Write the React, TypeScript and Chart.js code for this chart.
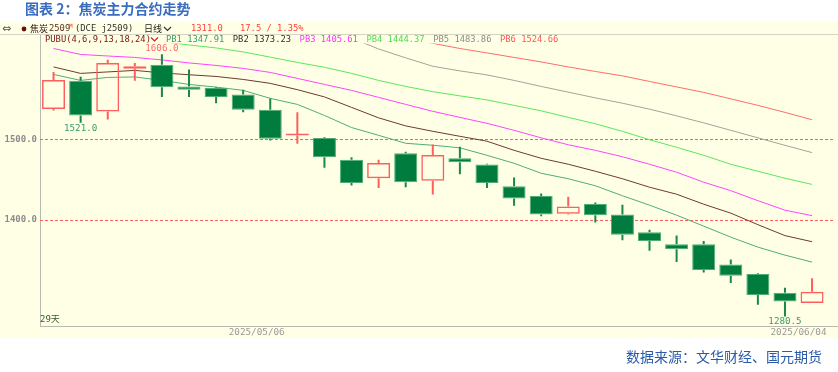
import React, { useEffect, useRef } from 'react';
import { Chart, registerables } from 'chart.js';

Chart.register(...registerables);

// ---- data ----
const dates = [
  '2025/04/21', '2025/04/22', '2025/04/23', '2025/04/24', '2025/04/25',
  '2025/04/28', '2025/04/29', '2025/04/30', '2025/05/06', '2025/05/07',
  '2025/05/08', '2025/05/09', '2025/05/12', '2025/05/13', '2025/05/14',
  '2025/05/15', '2025/05/16', '2025/05/19', '2025/05/20', '2025/05/21',
  '2025/05/22', '2025/05/23', '2025/05/26', '2025/05/27', '2025/05/28',
  '2025/05/29', '2025/05/30', '2025/06/03', '2025/06/04',
];
const opens = [1538, 1573, 1535, 1588, 1593, 1566, 1564, 1556, 1537, 1505, 1502, 1475, 1452, 1483, 1449, 1477, 1469, 1442, 1430, 1408, 1420, 1407, 1385, 1370, 1370, 1345, 1333, 1310, 1297];
const highs = [1584, 1578, 1599, 1595, 1606, 1587, 1565, 1562, 1551, 1534, 1503, 1478, 1475, 1485, 1494, 1491, 1470, 1453, 1433, 1429, 1422, 1419, 1388, 1381, 1374, 1351, 1334, 1316, 1328];
const lows = [1536, 1521, 1525, 1573, 1553, 1553, 1545, 1534, 1499, 1495, 1465, 1443, 1440, 1441, 1432, 1457, 1440, 1418, 1405, 1407, 1397, 1375, 1362, 1348, 1335, 1322, 1295, 1280.5, 1297];
const closes = [1574, 1530, 1595, 1591, 1565, 1562, 1553, 1537, 1501, 1506, 1478, 1446, 1471, 1447, 1481, 1472, 1446, 1427, 1407, 1417, 1406, 1382, 1374, 1364, 1338, 1331, 1307, 1299, 1311];

const pb1 = [1580.9, 1573.5, 1577.2, 1577.8, 1573.5, 1568.5, 1565.2, 1561.1, 1551.2, 1543.7, 1530.0, 1515.0, 1505.3, 1495.4, 1493.0, 1489.8, 1480.5, 1470.6, 1458.2, 1451.4, 1442.7, 1430.3, 1418.6, 1406.2, 1392.6, 1378.9, 1366.5, 1356.6, 1347.91];
const pb2 = [1590.2, 1582.2, 1584.0, 1585.9, 1582.8, 1580.5, 1578.4, 1574.7, 1569.8, 1562.0, 1553.0, 1540.0, 1527.0, 1517.0, 1510.3, 1504.1, 1498.0, 1486.7, 1476.8, 1469.4, 1460.7, 1451.4, 1440.9, 1432.2, 1419.8, 1408.7, 1394.4, 1380.8, 1373.23];
const pb3 = [1613.1, 1605.7, 1603.8, 1602.0, 1598.9, 1595.2, 1592.1, 1588.4, 1583.4, 1576.0, 1568.5, 1561.1, 1552.4, 1543.7, 1535.1, 1527.6, 1520.2, 1511.5, 1502.2, 1493.6, 1486.7, 1478.7, 1469.4, 1459.5, 1447.1, 1436.6, 1424.2, 1412.4, 1405.61];
const pb4 = [null, null, null, null, 1621.5, 1617.5, 1613.8, 1608.8, 1602.4, 1595.8, 1589.8, 1582.2, 1573.5, 1566.0, 1559.5, 1554.3, 1549.3, 1542.5, 1535.7, 1527.6, 1519.6, 1510.3, 1499.8, 1490.5, 1480.5, 1469.4, 1460.7, 1452.0, 1444.37];
const pb5 = [null, null, null, null, null, null, null, null, null, null, null, 1626.0, 1612.5, 1601.5, 1591.0, 1585.3, 1580.3, 1573.5, 1566.0, 1558.9, 1551.8, 1545.2, 1537.8, 1529.5, 1520.8, 1511.5, 1502.2, 1492.9, 1483.86];
const pb6 = [null, null, null, null, null, null, null, null, null, null, null, null, null, 1625.0, 1619.5, 1613.1, 1607.6, 1602.0, 1596.4, 1590.2, 1584.6, 1579.1, 1572.2, 1565.4, 1558.6, 1550.6, 1542.5, 1533.8, 1524.66];

const pbNames = ['PB1', 'PB2', 'PB3', 'PB4', 'PB5', 'PB6'];
const pbSeries = [pb1, pb2, pb3, pb4, pb5, pb6];
const pbColors = ['#4fae78', '#6e3b2e', '#ff44ff', '#5ae85a', '#a8a29a', '#ff6c6c'];
const pbTextColors = ['#3a9a68', '#3a2a2a', '#ff33ff', '#4edc4e', '#8c8c8c', '#ff5555'];

const yTicks = [1400, 1500];
const dateTicks = ['2025/05/06', '2025/06/04'];
const markHigh = [4];
const markLow = [1, 27];

const titleText = '图表 2：焦炭主力合约走势';
const sourceText = '数据来源：文华财经、国元期货';
const productName = '焦炭';
const productCode = '2509';
const exchangeText = '(DCE j2509)';
const periodText = '日线';
const changeText = '17.5 / 1.35%';
const indicatorText = 'PUBU(4,6,9,13,18,24)';
const daysText = '29天';

const MONO = "'DejaVu Sans Mono', monospace";
const CJK = "'Noto Sans CJK SC', sans-serif";

export default function App() {
  const ref = useRef<HTMLCanvasElement>(null);

  useEffect(() => {
    const canvas = ref.current;
    if (!canvas) return;
    const up = closes.map((c, i) => c >= opens[i]);
    const UP = '#ff5e5e';
    const DOWN_FILL = '#007c3f';
    const DOWN_EDGE = '#4fac74';
    const DOWN_WICK = '#17884a';
    const CREAM = '#ffffe6';

    const bodyData = dates.map((_, i) => ({ x: i, y: [Math.min(opens[i], closes[i]), Math.max(opens[i], closes[i])] }));
    const upperWick = dates
      .map((_, i) => ({ x: i, y: [Math.max(opens[i], closes[i]), highs[i]] }))
      .filter((d) => d.y[1] > d.y[0]);
    const lowerWick = dates
      .map((_, i) => ({ x: i, y: [lows[i], Math.min(opens[i], closes[i])] }))
      .filter((d) => d.y[1] > d.y[0]);

    const wickColor = (c: any) => (up[c.raw.x] ? UP : DOWN_WICK);

    const background = {
      id: 'bg',
      beforeDraw(chart: any) {
        const { ctx, width, height, chartArea } = chart;
        ctx.save();
        ctx.fillStyle = '#ffffff';
        ctx.fillRect(0, 0, width, height);
        ctx.fillStyle = CREAM;
        ctx.fillRect(0, 22, width, 316);
        ctx.lineWidth = 1;
        ctx.strokeStyle = '#d4d4c4';
        ctx.beginPath();
        ctx.moveTo(0, 34.5);
        ctx.lineTo(width, 34.5);
        ctx.stroke();
        ctx.strokeStyle = '#b9b9b0';
        ctx.beginPath();
        ctx.moveTo(chartArea.left + 0.5, 34.5);
        ctx.lineTo(chartArea.left + 0.5, chartArea.bottom + 0.5);
        ctx.moveTo(chartArea.left, chartArea.bottom + 0.5);
        ctx.lineTo(width, chartArea.bottom + 0.5);
        ctx.stroke();
        ctx.restore();
      },
    };

    const texts = {
      id: 'texts',
      afterDraw(chart: any) {
        const { ctx, scales } = chart;
        const xs = scales.x;
        const ys = scales.y;
        const txt = (s: string, x: number, y: number, font: string, color: string, align: CanvasTextAlign = 'left') => {
          ctx.font = font;
          ctx.fillStyle = color;
          ctx.textAlign = align;
          ctx.textBaseline = 'middle';
          ctx.fillText(s, x, y);
        };
        const chevron = (x: number, y: number, color: string) => {
          ctx.strokeStyle = color;
          ctx.lineWidth = 1.2;
          ctx.beginPath();
          ctx.moveTo(x, y - 2);
          ctx.lineTo(x + 3.5, y + 1.5);
          ctx.lineTo(x + 7, y - 2);
          ctx.stroke();
        };
        ctx.save();
        // title
        txt(titleText, 25, 9, `bold 14px ${CJK}`, '#3a6cc0');
        // header row
        const hy = 29;
        txt('⇔', 2, hy, "11px 'DejaVu Sans'", '#555555');
        ctx.fillStyle = '#6a0d0d';
        ctx.beginPath();
        ctx.arc(24, hy, 2.4, 0, Math.PI * 2);
        ctx.fill();
        txt(productName, 30, hy, `9px ${CJK}`, '#2b0b0b');
        txt(productCode, 49, hy, `8.8px ${MONO}`, '#5a3020');
        txt('M', 69, hy - 3, `6px ${MONO}`, '#ff3030');
        txt(exchangeText, 75, hy, `8.8px ${MONO}`, '#333333');
        txt(periodText, 144, hy, `9px ${CJK}`, '#222222');
        chevron(164, hy, '#333333');
        txt(closes[closes.length - 1].toFixed(1), 191, hy, `8.8px ${MONO}`, '#ff4040');
        txt(changeText, 240, hy, `8.8px ${MONO}`, '#ff4040');
        // indicator legend row
        const ly = 39.5;
        txt(indicatorText, 45, ly, `8.8px ${MONO}`, '#7a1414');
        chevron(151, ly, '#d02020');
        pbNames.forEach((name, k) => {
          const s = pbSeries[k];
          const last = s[s.length - 1] as number;
          txt(`${name} ${last.toFixed(2)}`, 166 + k * 66.8, ly, `8.8px ${MONO}`, pbTextColors[k]);
        });
        // high / low marks
        markHigh.forEach((i) => {
          txt(highs[i].toFixed(1), xs.getPixelForValue(i), ys.getPixelForValue(highs[i]) - 5.5, `9.2px ${MONO}`, '#ff6a6a', 'center');
        });
        markLow.forEach((i) => {
          txt(lows[i].toFixed(1), xs.getPixelForValue(i), ys.getPixelForValue(lows[i]) + 5.5, `9.2px ${MONO}`, '#3a9a6a', 'center');
        });
        // days count
        txt(daysText, 40, 320, `9px ${MONO}, ${CJK}`, '#3a5a2a');
        // source
        txt(sourceText, 822, 357, `14px ${CJK}`, '#2b5aa8', 'right');
        ctx.restore();
      },
    };

    const lineSets = pbSeries.map((s, k) => ({
      type: 'line' as const,
      data: s.map((v, i) => ({ x: i, y: v })),
      borderColor: pbColors[k],
      borderWidth: 1,
      pointRadius: 0,
      tension: 0,
      spanGaps: false,
      order: 10,
    }));

    const chart = new Chart(canvas, {
      type: 'bar',
      data: {
        datasets: [
          {
            type: 'bar',
            data: bodyData as any,
            grouped: false,
            barThickness: 23,
            minBarLength: 2,
            borderSkipped: false,
            inflateAmount: 0,
            backgroundColor: (c: any) => (up[c.raw.x] ? 'rgba(0,0,0,0)' : DOWN_FILL),
            borderColor: (c: any) => (up[c.raw.x] ? UP : DOWN_EDGE),
            borderWidth: (c: any) => (up[c.raw.x] ? 1.5 : 1),
            order: 0,
          } as any,
          {
            type: 'bar',
            data: upperWick as any,
            grouped: false,
            barThickness: 2,
            borderWidth: 0,
            inflateAmount: 0,
            backgroundColor: wickColor,
            order: 1,
          } as any,
          {
            type: 'bar',
            data: lowerWick as any,
            grouped: false,
            barThickness: 2,
            borderWidth: 0,
            inflateAmount: 0,
            backgroundColor: wickColor,
            order: 1,
          } as any,
          ...(lineSets as any[]),
        ],
      },
      options: {
        responsive: false,
        animation: false,
        devicePixelRatio: 1,
        events: [],
        layout: { padding: { left: 0, top: 43.5, right: 4, bottom: 34 } },
        plugins: { legend: { display: false }, tooltip: { enabled: false } },
        scales: {
          x: {
            type: 'linear',
            min: -0.5,
            max: 28.81,
            offset: false,
            grid: { display: false, drawTicks: false },
            border: { display: false },
            afterBuildTicks: (s: any) => {
              s.ticks = dateTicks.map((d) => ({ value: dates.indexOf(d) - 0.5 }));
            },
            afterFit: (s: any) => {
              s.height = 12;
            },
            ticks: {
              autoSkip: false,
              maxRotation: 0,
              minRotation: 0,
              padding: 1,
              color: '#9a9a9a',
              font: { family: MONO, size: 9.3 },
              callback: (v: any) => dates[Math.round(Number(v) + 0.5)],
            },
          },
          y: {
            type: 'linear',
            min: 1268.6,
            max: 1619.3,
            grid: { color: '#ff5c5c', drawTicks: false, lineWidth: 1 },
            border: { display: false, dash: [3, 2] },
            afterBuildTicks: (s: any) => {
              s.ticks = yTicks.map((v) => ({ value: v }));
            },
            afterFit: (s: any) => {
              s.width = 40;
            },
            ticks: {
              padding: 3,
              color: '#8a8a8a',
              font: { family: MONO, size: 9, weight: 'bold' },
              callback: (v: any) => Number(v).toFixed(1),
            },
          },
        },
      } as any,
      plugins: [background, texts],
    });

    return () => chart.destroy();
  }, []);

  return (
    <div style={{ position: 'fixed', left: 0, top: 0, width: 838, height: 372, background: '#ffffff' }}>
      <canvas ref={ref} width={838} height={372} style={{ display: 'block', width: 838, height: 372 }} />
    </div>
  );
}
